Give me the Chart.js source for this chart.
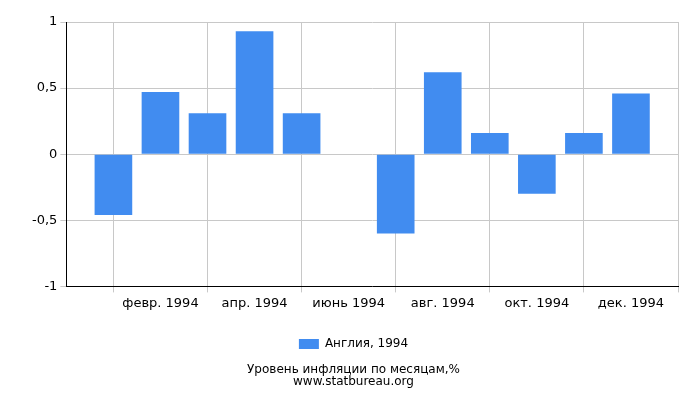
<!DOCTYPE html>
<html><head><meta charset="utf-8">
<script src="https://cdn.jsdelivr.net/npm/chart.js@4"></script>
<style>body{margin:0;background:#fff}#w{width:700px;height:400px}</style>
</head><body><div id="w"><canvas id="c"></canvas></div>
<script>
const months = ["янв. 1994","февр. 1994","март 1994","апр. 1994","май 1994","июнь 1994","июль 1994","авг. 1994","сент. 1994","окт. 1994","нояб. 1994","дек. 1994"];
const values = [-0.46,0.47,0.31,0.93,0.31,0,-0.6,0.62,0.16,-0.3,0.16,0.46];
const yTicks = [-1,-0.5,0,0.5,1];
const seriesName = "Англия, 1994";
const font = {family:"DejaVu Sans", size:13};
new Chart(document.getElementById('c'), {
  type:'bar',
  data:{datasets:[{label:seriesName, data:values.map((v,i)=>({x:i+1,y:v})), backgroundColor:'#418cf0', borderWidth:0, barPercentage:0.8, categoryPercentage:1}]},
  options:{
    responsive:true, maintainAspectRatio:false, animation:false,
    layout:{padding:{left:29,right:22,top:22,bottom:12}},
    scales:{
      x:{type:'linear', min:0, max:13, offset:false,
        afterBuildTicks:s=>{s.ticks=[2,4,6,8,10,12].map(v=>({value:v}));},
        ticks:{color:'#000', font, autoSkip:false, maxRotation:0, callback:v=>months[v-1]||''},
        grid:{color:'#c8c8c8', drawTicks:true, tickLength:6}, border:{color:'#000'}},
      y:{min:-1, max:1,
        afterBuildTicks:s=>{s.ticks=yTicks.map(v=>({value:v}));},
        ticks:{color:'#000', font, callback:v=>String(v).replace('.',',')},
        grid:{color:'#c8c8c8', tickLength:6}, border:{color:'#000'}}
    },
    plugins:{
      legend:{position:'bottom', labels:{font:{family:"DejaVu Sans",size:12}, color:'#000', boxWidth:20, boxHeight:10, padding:24}},
      title:{display:true, position:'bottom', text:['Уровень инфляции по месяцам,%','www.statbureau.org'], color:'#000', font:{family:"DejaVu Sans",size:12,weight:'normal',lineHeight:1.0}, padding:{top:4,bottom:0}},
      tooltip:{enabled:false}
    }
  }
});
</script></body></html>
